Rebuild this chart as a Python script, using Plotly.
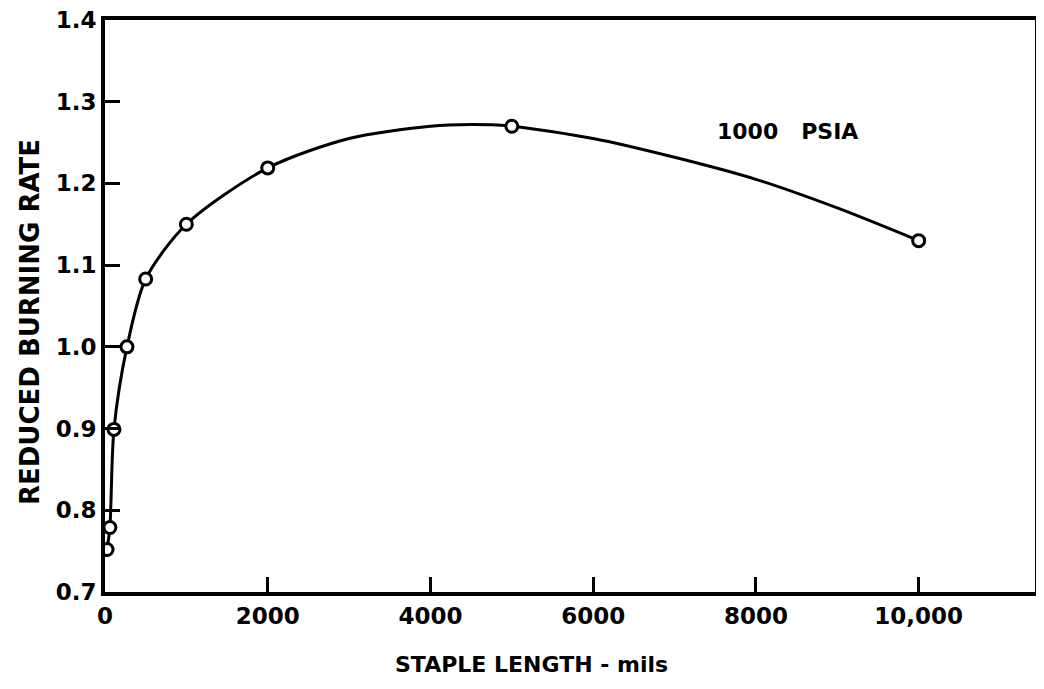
import plotly.graph_objects as go

# measured points
staple_length = [25, 60, 110, 270, 500, 1000, 2000, 5000, 10000]
burning_rate = [0.752, 0.779, 0.899, 1.0, 1.083, 1.15, 1.219, 1.27, 1.13]

# hand-drawn fitted curve
curve_x = [25, 60, 110, 270, 500, 1000, 2000, 3000, 4000, 4500, 5000, 6000, 7000, 8000, 9000, 10000]
curve_y = [0.752, 0.779, 0.899, 1.0, 1.083, 1.15, 1.219, 1.255, 1.270, 1.272, 1.27, 1.255, 1.232, 1.205, 1.17, 1.13]

x_ticks = [0, 2000, 4000, 6000, 8000, 10000]
x_tick_labels = ["0", "2000", "4000", "6000", "8000", "10,000"]
y_ticks = [0.7, 0.8, 0.9, 1.0, 1.1, 1.2, 1.3, 1.4]
y_tick_labels = ["0.7", "0.8", "0.9", "1.0", "1.1", "1.2", "1.3", "1.4"]

FONT = "DejaVu Sans"

fig = go.Figure()
fig.add_trace(go.Scatter(
    x=curve_x, y=curve_y, mode="lines",
    line=dict(color="black", width=3, shape="spline", smoothing=0.8),
    hoverinfo="skip", showlegend=False,
))
fig.add_trace(go.Scatter(
    x=staple_length, y=burning_rate, mode="markers",
    marker=dict(symbol="circle", size=12, color="white",
                line=dict(color="black", width=3)),
    showlegend=False,
))

fig.add_annotation(
    x=8382, y=1.264, xref="x", yref="y", text="1000&nbsp;&nbsp;&nbsp;PSIA",
    showarrow=False, font=dict(family=FONT, size=22, color="black", weight="bold"),
    xanchor="center", yanchor="middle",
)
# axis titles (placed as in the original)
fig.add_annotation(
    x=0.459, y=-0.1276, xref="paper", yref="paper", text="STAPLE LENGTH - mils",
    showarrow=False, font=dict(family=FONT, size=22, color="black", weight="bold"),
    xanchor="center", yanchor="middle",
)
fig.add_annotation(
    x=-0.0806, y=0.472, xref="paper", yref="paper", text="REDUCED BURNING RATE",
    textangle=-90, showarrow=False,
    font=dict(family=FONT, size=26, color="black", weight="bold"),
    xanchor="center", yanchor="middle",
)

axis_common = dict(
    showline=True, linecolor="black", linewidth=4, mirror=True,
    ticks="inside", ticklen=15, tickwidth=3, tickcolor="black",
    showgrid=False, zeroline=False, automargin=False,
    ticklabeloverflow="allow",
    tickfont=dict(family=FONT, size=23, color="black", weight="bold"),
)

fig.update_layout(
    width=1036, height=681,
    margin=dict(l=97, r=9, t=12, b=97),
    paper_bgcolor="white", plot_bgcolor="white",
    xaxis=dict(range=[0, 11430], tickvals=x_ticks, ticktext=x_tick_labels,
               **axis_common),
    yaxis=dict(range=[0.7, 1.4], tickvals=y_ticks, ticktext=y_tick_labels,
               **axis_common),
)

fig.write_html("out.html")
